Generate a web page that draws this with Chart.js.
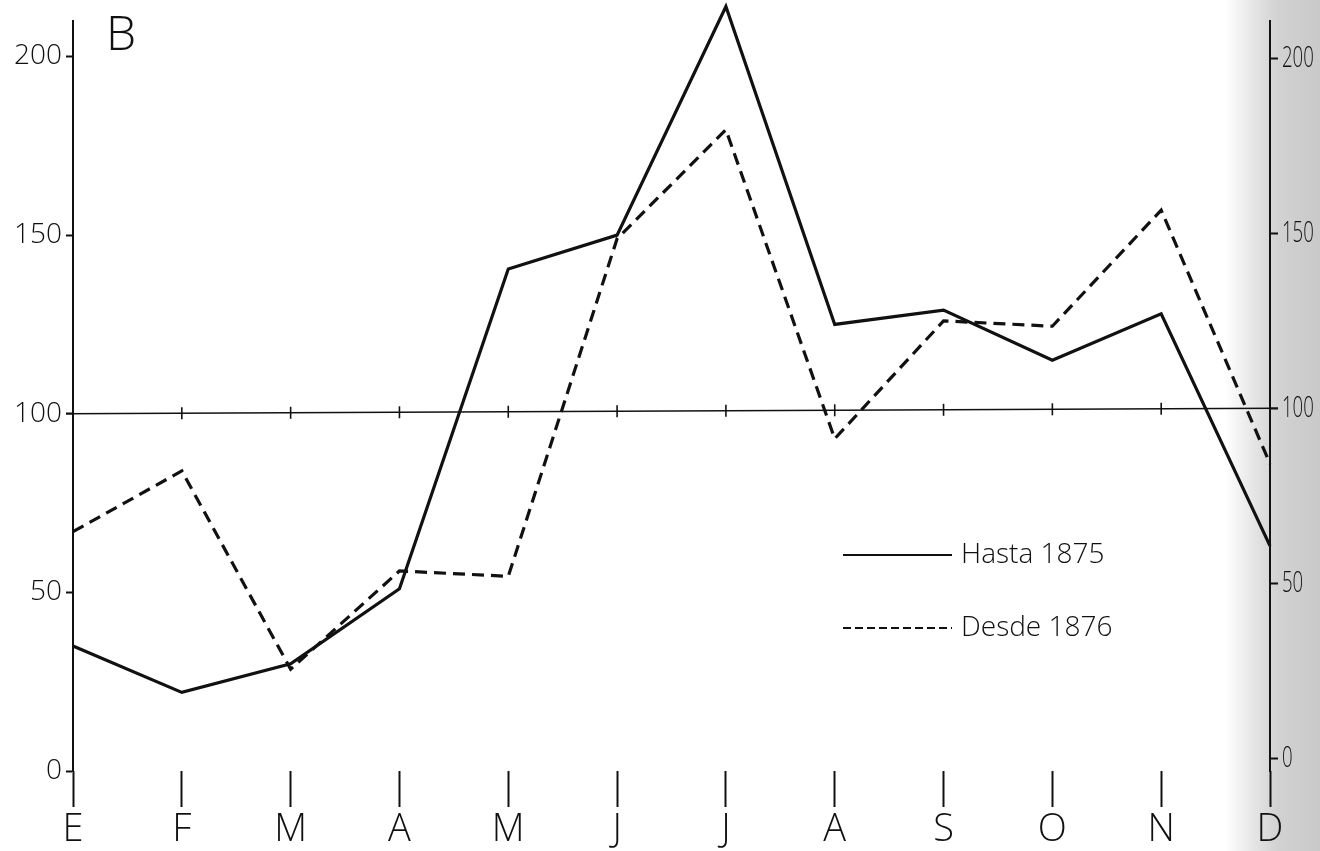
<!DOCTYPE html>
<html>
<head>
<meta charset="utf-8">
<title>Índice estacional</title>
<script src="https://cdn.jsdelivr.net/npm/chart.js@4/dist/chart.umd.min.js"></script>
<style>
  html, body { margin: 0; padding: 0; background: #fff; }
  canvas { display: block; }
</style>
</head>
<body>
<canvas id="estacional" width="1320" height="851"></canvas>
<script>
// meses del año y los dos periodos (índice, media anual = 100)
const meses = ['E', 'F', 'M', 'A', 'M', 'J', 'J', 'A', 'S', 'O', 'N', 'D'];
const hasta1875 = [35, 22, 30, 51, 140.5, 150, 214, 125, 129, 115, 128, 63];
const desde1876 = [67, 84, 28.5, 56, 54.5, 149, 179.5, 93, 126, 124.5, 157, 86];
const ticksIzq = [0, 50, 100, 150, 200];
const ticksDer = [0, 50, 100, 150, 200];
const nombres = ['Hasta 1875', 'Desde 1876'];
const panel = 'B';
const media = 100;

const FUENTE = "'Open Sans', 'DejaVu Sans', sans-serif";
const TINTA = '#111';
const DASH = [12, 7];

// fondo, línea del 100, letra del panel, cifras de la derecha y leyenda
const extras = {
  id: 'extras',
  beforeDraw(chart) {
    const { ctx, chartArea } = chart;
    ctx.save();
    ctx.fillStyle = '#fff';
    ctx.fillRect(0, 0, chart.width, chart.height);
    const x0 = chartArea.right - 45;
    const g = ctx.createLinearGradient(x0, 0, chart.width, 0);
    g.addColorStop(0, 'rgba(210,210,210,0)');
    g.addColorStop(0.4, 'rgba(210,210,210,0.75)');
    g.addColorStop(0.55, '#d2d2d2');
    g.addColorStop(1, '#c9c9c9');
    ctx.fillStyle = g;
    ctx.fillRect(x0, 0, chart.width - x0, chart.height);
    ctx.restore();
  },
  beforeDatasetsDraw(chart) {
    const { ctx, scales } = chart;
    const { x, y, y1 } = scales;
    const yl = y.getPixelForValue(media);
    const yr = y1.getPixelForValue(media);
    const xl = x.getPixelForValue(0);
    const xr = x.getPixelForValue(meses.length - 1);
    ctx.save();
    ctx.strokeStyle = TINTA;
    ctx.lineWidth = 1.6;
    ctx.beginPath();
    ctx.moveTo(xl - 7, yl);
    ctx.lineTo(xr + 8, yr);
    ctx.stroke();
    // marcas de los meses sobre la línea del 100
    for (let i = 1; i < meses.length - 1; i++) {
      const px = x.getPixelForValue(i);
      const py = yl + (yr - yl) * (px - xl) / (xr - xl);
      ctx.beginPath();
      ctx.moveTo(px, py - 6);
      ctx.lineTo(px, py + 6);
      ctx.stroke();
    }
    ctx.restore();
  },
  afterDraw(chart) {
    const { ctx, scales } = chart;
    ctx.save();
    ctx.fillStyle = TINTA;
    ctx.textBaseline = 'alphabetic';
    ctx.font = '300 48px ' + FUENTE;
    ctx.fillText(panel, 106, 50);

    // cifras estrechas del eje derecho
    const y1 = scales.y1;
    ctx.font = '300 30px ' + FUENTE;
    ctx.textBaseline = 'middle';
    ticksDer.forEach(v => {
      ctx.save();
      ctx.translate(y1.left + 12, y1.getPixelForValue(v));
      ctx.scale(0.62, 1);
      ctx.fillText(String(v), 0, 0);
      ctx.restore();
    });

    // leyenda
    const lx0 = 843, lx1 = 952, filas = [555, 628];
    ctx.strokeStyle = TINTA;
    ctx.lineWidth = 2.2;
    filas.forEach((ly, i) => {
      ctx.setLineDash(i === 0 ? [] : [8, 4]);
      ctx.beginPath();
      ctx.moveTo(lx0, ly);
      ctx.lineTo(lx1, ly);
      ctx.stroke();
      ctx.setLineDash([]);
      ctx.font = '300 28px ' + FUENTE;
      ctx.textBaseline = 'middle';
      ctx.fillText(nombres[i], lx1 + 9, ly);
    });
    ctx.restore();
  }
};

const ctx = document.getElementById('estacional').getContext('2d');
new Chart(ctx, {
  type: 'line',
  data: {
    labels: meses,
    datasets: [
      {
        label: nombres[0],
        data: hasta1875,
        borderColor: TINTA,
        borderWidth: 3.2,
        pointRadius: 0,
        tension: 0,
        clip: false,
        yAxisID: 'y'
      },
      {
        label: nombres[1],
        data: desde1876,
        borderColor: TINTA,
        borderWidth: 3.2,
        borderDash: DASH,
        pointRadius: 0,
        tension: 0,
        clip: false,
        yAxisID: 'y'
      }
    ]
  },
  options: {
    responsive: false,
    animation: false,
    events: [],
    layout: { padding: { top: 14, left: 0, right: 0, bottom: 0 } },
    plugins: {
      legend: { display: false },
      tooltip: { enabled: false },
      title: { display: false }
    },
    scales: {
      x: {
        offset: false,
        border: { display: false },
        grid: {
          drawOnChartArea: false,
          drawTicks: true,
          tickLength: 36,
          tickWidth: 2,
          tickColor: TINTA
        },
        ticks: {
          color: TINTA,
          autoSkip: false,
          maxRotation: 0,
          padding: 0,
          font: { family: FUENTE, size: 38, weight: '300' }
        },
        afterFit(scale) { scale.height = 80; }
      },
      y: {
        position: 'left',
        min: 0,
        max: 210,
        border: { display: true, color: TINTA, width: 2 },
        grid: {
          drawOnChartArea: false,
          drawTicks: true,
          tickLength: 7,
          tickWidth: 2,
          tickColor: TINTA
        },
        ticks: {
          color: TINTA,
          padding: 4,
          font: { family: FUENTE, size: 28, weight: '300' }
        },
        afterBuildTicks(scale) { scale.ticks = ticksIzq.map(v => ({ value: v })); },
        afterFit(scale) { scale.width = 73; }
      },
      y1: {
        position: 'right',
        min: -3.7,
        max: 210.8,
        border: { display: true, color: TINTA, width: 2 },
        grid: {
          drawOnChartArea: false,
          drawTicks: true,
          tickLength: 8,
          tickWidth: 2,
          tickColor: TINTA
        },
        ticks: { display: false },
        afterBuildTicks(scale) { scale.ticks = ticksDer.map(v => ({ value: v })); },
        afterFit(scale) { scale.width = 50; }
      }
    }
  },
  plugins: [extras]
});
</script>
</body>
</html>
